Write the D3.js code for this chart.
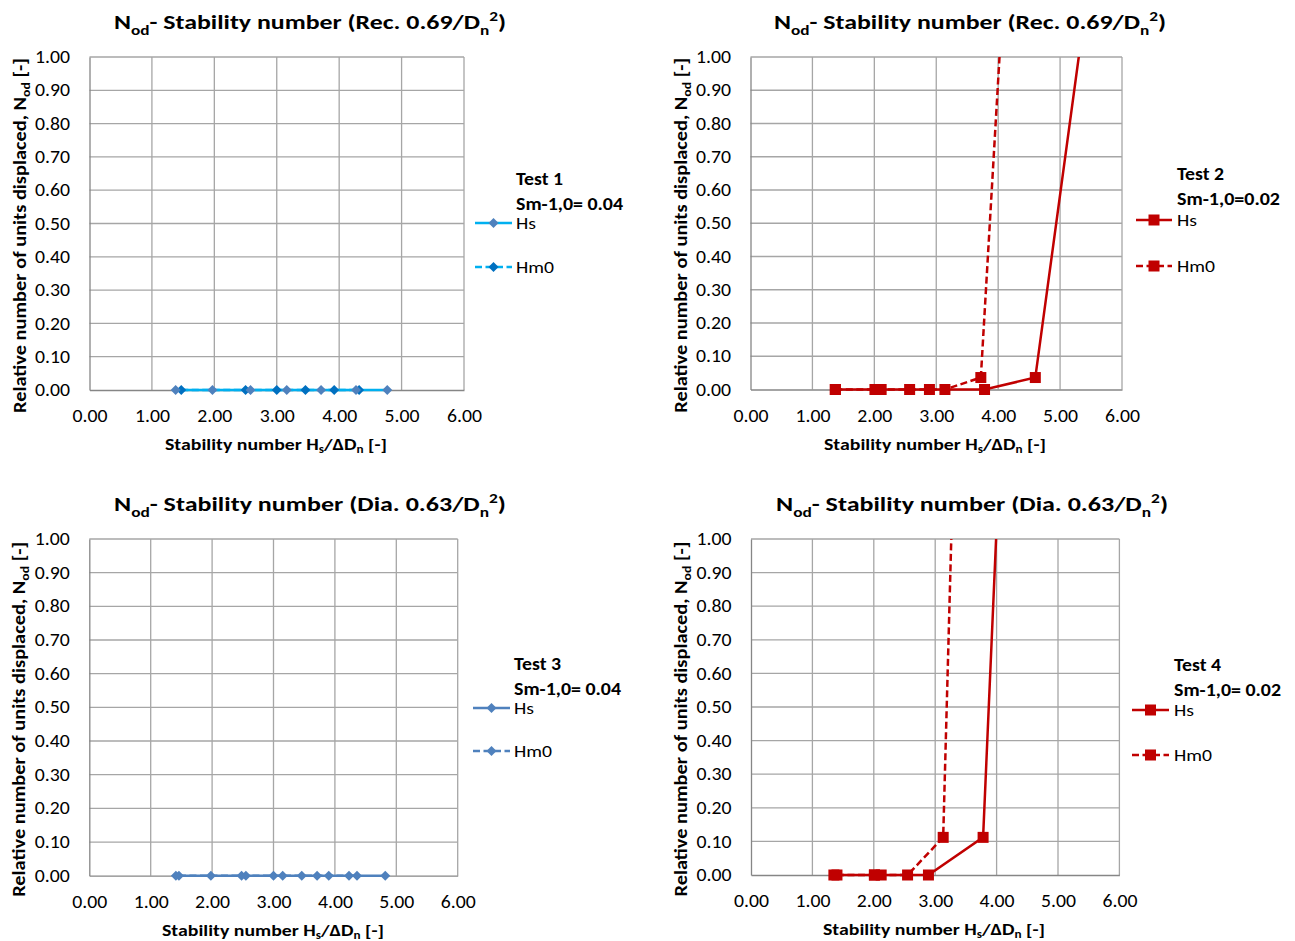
<!DOCTYPE html>
<html>
<head>
<meta charset="utf-8">
<script src="https://cdn.jsdelivr.net/npm/d3@7"></script>
<style>
  html, body { margin: 0; padding: 0; background: #ffffff; }
  svg { display: block; font-family: Carlito, Calibri, Lato, "Open Sans", sans-serif; }
</style>
</head>
<body>
<svg id="chart" width="1295" height="941"></svg>
<script>
// Axis ticks shared by all four panels
const xTicks = [0, 1, 2, 3, 4, 5, 6];
const yTicks = [0, 0.1, 0.2, 0.3, 0.4, 0.5, 0.6, 0.7, 0.8, 0.9, 1.0];

// Test 1 – rectangular units, Sm-1,0 = 0.04
const test1HsX  = [1.38, 1.97, 2.58, 3.16, 3.71, 4.27, 4.77];
const test1HsY  = [0, 0, 0, 0, 0, 0, 0];
const test1Hm0X = [1.47, 2.50, 3.00, 3.46, 3.92, 4.32];
const test1Hm0Y = [0, 0, 0, 0, 0, 0];

// Test 2 – rectangular units, Sm-1,0 = 0.02
const test2HsX  = [1.37, 2.11, 2.89, 3.78, 4.60, 5.60];
const test2HsY  = [0, 0, 0, 0, 0.036, 1.41];
const test2Hm0X = [1.37, 2.01, 2.57, 3.14, 3.72, 4.15];
const test2Hm0Y = [0, 0, 0, 0, 0.036, 1.41];

// Test 3 – diagonal units, Sm-1,0 = 0.04
const test3HsX  = [1.41, 1.98, 2.48, 3.00, 3.71, 4.23, 4.82];
const test3HsY  = [0, 0, 0, 0, 0, 0, 0];
const test3Hm0X = [1.46, 2.55, 3.15, 3.46, 3.90, 4.36];
const test3Hm0Y = [0, 0, 0, 0, 0, 0];

// Test 4 – diagonal units, Sm-1,0 = 0.02
const test4HsX  = [1.35, 2.01, 2.12, 2.89, 3.78, 4.23];
const test4HsY  = [0, 0, 0, 0, 0.112, 2.0];
const test4Hm0X = [1.40, 2.01, 2.55, 3.13, 3.41];
const test4Hm0Y = [0, 0, 0, 0.112, 2.0];

const titles   = ["Rec. 0.69", "Rec. 0.69", "Dia. 0.63", "Dia. 0.63"];
const testNames = ["Test 1", "Test 2", "Test 3", "Test 4"];
const steepness = ["Sm-1,0= 0.04", "Sm-1,0=0.02", "Sm-1,0= 0.04", "Sm-1,0= 0.02"];
const seriesNames = ["Hs", "Hm0"];

const zip = (xs, ys) => xs.map((x, i) => ({ x, y: ys[i] }));

// Panel geometry and styling
const panels = [
  { left: 89.5, right: 464, top: 57, bottom: 390, titleX: 310, xLabelX: 276, legX: 516, legY: 185, legLine: [475, 512], hsY: 223, hm0Y: 267,
    marker: "diamond", hsLine: "#00B0F0", hsMark: "#4F81BD", hm0Line: "#00B0F0", hm0Mark: "#0070C0",
    hs: zip(test1HsX, test1HsY), hm0: zip(test1Hm0X, test1Hm0Y) },
  { left: 750.5, right: 1122, top: 57, bottom: 389.5, titleX: 970, xLabelX: 935, legX: 1177, legY: 180, legLine: [1136, 1172], hsY: 220, hm0Y: 266,
    marker: "square", hsLine: "#C00000", hsMark: "#C00000", hm0Line: "#C00000", hm0Mark: "#C00000",
    hs: zip(test2HsX, test2HsY), hm0: zip(test2Hm0X, test2Hm0Y) },
  { left: 89.3, right: 457.7, top: 539, bottom: 875.7, titleX: 310, xLabelX: 273, legX: 514, legY: 670, legLine: [473, 510], hsY: 708, hm0Y: 751,
    marker: "diamond", hsLine: "#4F81BD", hsMark: "#4F81BD", hm0Line: "#4F81BD", hm0Mark: "#4F81BD",
    hs: zip(test3HsX, test3HsY), hm0: zip(test3Hm0X, test3Hm0Y) },
  { left: 751, right: 1119.4, top: 539, bottom: 875, titleX: 972, xLabelX: 934, legX: 1174, legY: 671, legLine: [1132, 1169], hsY: 710, hm0Y: 755,
    marker: "square", hsLine: "#C00000", hsMark: "#C00000", hm0Line: "#C00000", hm0Mark: "#C00000",
    hs: zip(test4HsX, test4HsY), hm0: zip(test4Hm0X, test4Hm0Y) }
];

const svg = d3.select("#chart");
const fmt = d3.format(".2f");

// Stretch a text element horizontally to a given width
function fit(sel, w) {
  return sel.attr("textLength", w).attr("lengthAdjust", "spacingAndGlyphs");
}

function drawMarker(g, type, x, y, color) {
  if (type === "diamond") {
    g.append("path")
      .attr("d", `M${x},${y - 5}L${x + 5},${y}L${x},${y + 5}L${x - 5},${y}Z`)
      .attr("fill", color);
  } else {
    g.append("rect")
      .attr("x", x - 5.5).attr("y", y - 5.5)
      .attr("width", 11).attr("height", 11)
      .attr("fill", color);
  }
}

panels.forEach((p, i) => {
  const g = svg.append("g");
  const x = d3.scaleLinear().domain([0, 6]).range([p.left, p.right]);
  const y = d3.scaleLinear().domain([0, 1]).range([p.bottom, p.top]);

  // Gridlines
  g.append("g").selectAll("line").data(yTicks.slice(1)).join("line")
    .attr("x1", p.left).attr("x2", p.right)
    .attr("y1", d => y(d)).attr("y2", d => y(d))
    .attr("stroke", "#A6A6A6").attr("stroke-width", 1.3);
  g.append("g").selectAll("line").data(xTicks.slice(1)).join("line")
    .attr("x1", d => x(d)).attr("x2", d => x(d))
    .attr("y1", p.top).attr("y2", p.bottom)
    .attr("stroke", "#A6A6A6").attr("stroke-width", 1.3);

  // Axes
  const yAxis = d3.axisLeft(y).tickValues(yTicks).tickFormat(fmt).tickSize(0).tickPadding(19.5);
  const xAxis = d3.axisBottom(x).tickValues(xTicks).tickFormat(fmt).tickSize(0).tickPadding(20);
  const ya = g.append("g").attr("transform", `translate(${p.left},0)`).call(yAxis);
  const xa = g.append("g").attr("transform", `translate(0,${p.bottom})`).call(xAxis);
  [ya, xa].forEach(a => {
    a.select(".domain").attr("stroke", "#868686").attr("stroke-width", 1.3);
    a.selectAll("text").attr("font-size", 17.5).attr("fill", "#000")
      .attr("font-family", "Carlito, Calibri, Lato, sans-serif")
      .attr("textLength", 35).attr("lengthAdjust", "spacingAndGlyphs");
  });

  // Series lines and markers, clipped to the plot area
  const clipId = "clip" + i;
  g.append("clipPath").attr("id", clipId).append("rect")
    .attr("x", p.left - 8).attr("y", p.top).attr("width", p.right - p.left + 16).attr("height", p.bottom - p.top + 10);
  const plot = g.append("g").attr("clip-path", `url(#${clipId})`);
  const line = d3.line().x(d => x(d.x)).y(d => y(d.y));

  plot.append("path").datum(p.hm0).attr("d", line).attr("fill", "none")
    .attr("stroke", p.hm0Line).attr("stroke-width", 2.5).attr("stroke-dasharray", "7,3.5");
  plot.append("path").datum(p.hs).attr("d", line).attr("fill", "none")
    .attr("stroke", p.hsLine).attr("stroke-width", 2.5);
  p.hm0.forEach(d => drawMarker(plot, p.marker, x(d.x), y(d.y), p.hm0Mark));
  p.hs.forEach(d => drawMarker(plot, p.marker, x(d.x), y(d.y), p.hsMark));

  // Title
  const t = g.append("text").attr("x", p.titleX).attr("y", p.top - 28)
    .attr("text-anchor", "middle").attr("font-size", 21).attr("font-weight", "bold");
  t.append("tspan").text("N");
  t.append("tspan").attr("font-size", 14).attr("dy", 6).text("od");
  t.append("tspan").attr("dy", -6).text("- Stability number (" + titles[i] + "/D");
  t.append("tspan").attr("font-size", 14).attr("dy", 6).text("n");
  t.append("tspan").attr("font-size", 14).attr("dy", -14).text("2");
  t.append("tspan").attr("dy", 8).text(")");
  fit(t, 392);

  // X axis title
  const xt = g.append("text").attr("x", p.xLabelX).attr("y", p.bottom + 60)
    .attr("text-anchor", "middle").attr("font-size", 16.5).attr("font-weight", "bold");
  xt.append("tspan").text("Stability number H");
  xt.append("tspan").attr("font-size", 11).attr("dy", 3).text("s");
  xt.append("tspan").attr("dy", -3).text("/ΔD");
  xt.append("tspan").attr("font-size", 11).attr("dy", 3).text("n");
  xt.append("tspan").attr("dy", -3).text(" [-]");
  fit(xt, 222);

  // Y axis title
  const ly = p.left - 64, lyc = (p.top + p.bottom) / 2 + 12;
  const yt = g.append("text").attr("transform", `translate(${ly},${lyc}) rotate(-90)`)
    .attr("text-anchor", "middle").attr("font-size", 17).attr("font-weight", "bold");
  yt.append("tspan").text("Relative number of  units displaced, N");
  yt.append("tspan").attr("font-size", 11.5).attr("dy", 4).text("od");
  yt.append("tspan").attr("dy", -4).text(" [-]");
  fit(yt, 355);

  // Legend
  const lg = g.append("g");
  fit(lg.append("text").attr("x", p.legX).attr("y", p.legY)
    .attr("font-size", 17).attr("font-weight", "bold").text(testNames[i]), 47);
  fit(lg.append("text").attr("x", p.legX).attr("y", p.legY + 25)
    .attr("font-size", 17).attr("font-weight", "bold").text(steepness[i]), steepness[i].includes("= ") ? 107 : 103);
  const entries = [
    { name: seriesNames[0], yy: p.hsY, stroke: p.hsLine, mark: p.hsMark, dash: null, w: 20 },
    { name: seriesNames[1], yy: p.hm0Y, stroke: p.hm0Line, mark: p.hm0Mark, dash: "7,3.5", w: 38 }
  ];
  entries.forEach(e => {
    lg.append("line").attr("x1", p.legLine[0]).attr("x2", p.legLine[1])
      .attr("y1", e.yy).attr("y2", e.yy)
      .attr("stroke", e.stroke).attr("stroke-width", 2.5)
      .attr("stroke-dasharray", e.dash);
    drawMarker(lg, p.marker, (p.legLine[0] + p.legLine[1]) / 2, e.yy, e.mark);
    fit(lg.append("text").attr("x", p.legX).attr("y", e.yy + 6)
      .attr("font-size", 17).text(e.name), e.w);
  });
});
</script>
</body>
</html>
